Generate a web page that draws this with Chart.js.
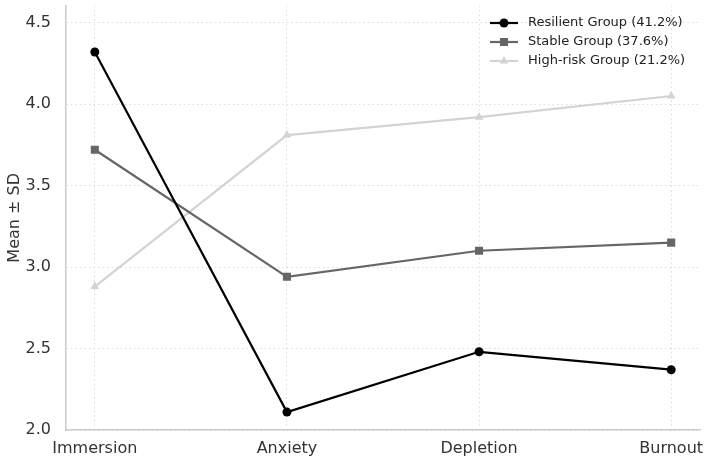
<!DOCTYPE html>
<html>
<head>
<meta charset="utf-8">
<script src="https://cdn.jsdelivr.net/npm/chart.js@4.4.1/dist/chart.umd.min.js"></script>
<style>
  html, body { margin: 0; padding: 0; background: #fff; }
  #wrap { width: 709px; height: 464px; }
</style>
</head>
<body>
<div id="wrap"><canvas id="chart-profiles"></canvas></div>
<script>
  // Data
  var categories = ['Immersion', 'Anxiety', 'Depletion', 'Burnout'];
  var resilient = [4.32, 2.11, 2.48, 2.37];
  var stable = [3.72, 2.94, 3.10, 3.15];
  var highRisk = [2.88, 3.81, 3.92, 4.05];
  var yTicks = [2.0, 2.5, 3.0, 3.5, 4.0, 4.5];

  function toPoints(values) {
    return values.map(function(v, i) { return { x: i, y: v }; });
  }

  var FONT = "'DejaVu Sans', sans-serif";

  // Legend in the top right corner, line + marker like the original
  var cornerLegend = {
    id: 'cornerLegend',
    afterDraw: function(chart) {
      var ctx = chart.ctx;
      var x0 = 490, y0 = 23, rowH = 19;
      ctx.save();
      chart.data.datasets.forEach(function(ds, i) {
        var y = y0 + i * rowH;
        ctx.strokeStyle = ds.borderColor;
        ctx.lineWidth = ds.borderWidth;
        ctx.beginPath();
        ctx.moveTo(x0, y);
        ctx.lineTo(x0 + 28, y);
        ctx.stroke();
        drawMarker(ctx, ds.pointStyle, x0 + 14, y, ds.pointRadius, ds.borderColor);
        ctx.fillStyle = '#222';
        ctx.font = '13px ' + FONT;
        ctx.textBaseline = 'middle';
        ctx.fillText(ds.label, x0 + 38, y);
      });
      ctx.restore();
    }
  };

  function drawMarker(ctx, style, x, y, r, color) {
    ctx.fillStyle = color;
    ctx.beginPath();
    if (style === 'rect') {
      var s = r * Math.SQRT1_2;
      ctx.rect(x - s, y - s, 2 * s, 2 * s);
    } else if (style === 'triangle') {
      ctx.moveTo(x, y - r);
      ctx.lineTo(x + r * 0.866, y + r * 0.5);
      ctx.lineTo(x - r * 0.866, y + r * 0.5);
      ctx.closePath();
    } else {
      ctx.arc(x, y, r, 0, Math.PI * 2);
    }
    ctx.fill();
  }

  var profileChart = new Chart(document.getElementById('chart-profiles').getContext('2d'), {
    type: 'line',
    data: {
      datasets: [{
        label: 'Resilient Group (41.2%)',
        data: toPoints(resilient),
        borderColor: '#000000',
        backgroundColor: '#000000',
        borderWidth: 2.2,
        pointStyle: 'circle',
        pointRadius: 4.5,
        pointBorderWidth: 0
      }, {
        label: 'Stable Group (37.6%)',
        data: toPoints(stable),
        borderColor: '#666666',
        backgroundColor: '#666666',
        borderWidth: 2.2,
        pointStyle: 'rect',
        pointRadius: 5.7,
        pointBorderWidth: 0
      }, {
        label: 'High-risk Group (21.2%)',
        data: toPoints(highRisk),
        borderColor: '#d3d3d3',
        backgroundColor: '#d3d3d3',
        borderWidth: 2.2,
        pointStyle: 'triangle',
        pointRadius: 5,
        pointBorderWidth: 0
      }]
    },
    options: {
      responsive: true,
      maintainAspectRatio: false,
      animation: false,
      layout: { padding: { left: 5, top: 4, right: 9, bottom: 0 } },
      plugins: {
        legend: { display: false },
        tooltip: { enabled: false }
      },
      scales: {
        x: {
          type: 'linear',
          min: -0.15,
          max: 3.15,
          afterBuildTicks: function(scale) {
            scale.ticks = categories.map(function(c, i) { return { value: i }; });
          },
          afterFit: function(scale) {
            scale.height = 34;
            scale.paddingLeft = 0;
            scale.paddingRight = 0;
          },
          ticks: {
            callback: function(v) { return categories[v]; },
            font: { family: FONT, size: 16 },
            color: '#333',
            padding: 9,
            maxRotation: 0,
            autoSkip: false
          },
          grid: { color: '#dcdcdc', lineWidth: 1, drawTicks: false },
          border: { color: '#cccccc', width: 1.5, dash: [1.5, 3] }
        },
        y: {
          min: 2.0,
          max: 4.604,
          afterBuildTicks: function(scale) {
            scale.ticks = yTicks.map(function(v) { return { value: v }; });
          },
          afterFit: function(scale) {
            scale.width = 61;
            scale.paddingTop = 0;
            scale.paddingBottom = 0;
          },
          ticks: {
            callback: function(v) { return v.toFixed(1); },
            font: { family: FONT, size: 16 },
            color: '#333',
            padding: 15
          },
          title: {
            display: true,
            text: 'Mean ± SD',
            font: { family: FONT, size: 16 },
            color: '#333',
            padding: { top: 0, bottom: 0 }
          },
          grid: { color: '#dcdcdc', lineWidth: 1, drawTicks: false },
          border: { color: '#cccccc', width: 1.5, dash: [1.5, 3] }
        }
      }
    },
    plugins: [cornerLegend]
  });
</script>
</body>
</html>
